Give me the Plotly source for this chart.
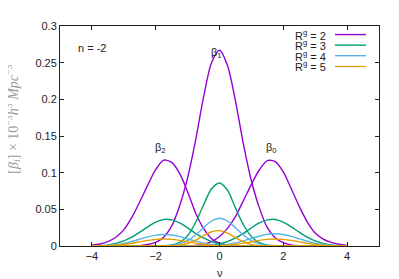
import plotly.graph_objects as go

# threshold grid (nu)
NU = [-4.0, -3.75, -3.5, -3.25, -3.0, -2.75, -2.5, -2.25, -2.0, -1.75, -1.5, -1.25,
      -1.0, -0.75, -0.5, -0.25, 0.0, 0.25, 0.5, 0.75, 1.0, 1.25, 1.5, 1.75,
      2.0, 2.25, 2.5, 2.75, 3.0, 3.25, 3.5, 3.75, 4.0]

# Rg = 2
B0_R2 = [0]*12 + [0.0002, 0.0008, 0.0025, 0.006, 0.013, 0.024, 0.040, 0.062, 0.084, 0.104,
                  0.1165, 0.115, 0.101, 0.078, 0.054, 0.033, 0.0176, 0.0094, 0.0049, 0.0023, 0.0008]
B1_R2 = [0]*6 + [0.0005, 0.002, 0.005, 0.012, 0.027, 0.055, 0.093, 0.144, 0.203, 0.250, 0.267,
                 0.246, 0.198, 0.139, 0.089, 0.052, 0.025, 0.011, 0.0045, 0.0015, 0.0004] + [0]*6
B2_R2 = [0.001, 0.0027, 0.006, 0.012, 0.022, 0.039, 0.060, 0.083, 0.104, 0.117, 0.114, 0.099,
         0.074, 0.045, 0.024, 0.010, 0.004, 0.0012, 0.0003] + [0]*14
# Rg = 3
B0_R3 = [0]*14 + [0.0005, 0.0013, 0.003, 0.006, 0.011, 0.0173, 0.0247, 0.0314, 0.0356, 0.0362,
                  0.0325, 0.026, 0.0188, 0.012, 0.0069, 0.0035, 0.0016, 0.0006, 0.0002]
B1_R3 = [0]*9 + [0.0003, 0.0014, 0.005, 0.014, 0.032, 0.056, 0.078, 0.086, 0.076, 0.052, 0.029,
                 0.013, 0.0045, 0.0012, 0.0003] + [0]*9
B2_R3 = [0.0002, 0.0006, 0.0016, 0.0035, 0.0069, 0.012, 0.0188, 0.026, 0.0325, 0.0362, 0.0356,
         0.0314, 0.0247, 0.0173, 0.011, 0.006, 0.003, 0.0013, 0.0005] + [0]*14
# Rg = 4
B0_R4 = [0]*15 + [0.0004, 0.001, 0.0022, 0.0042, 0.0070, 0.0103, 0.0136, 0.0160, 0.0167, 0.0157,
                  0.0132, 0.0098, 0.0065, 0.0038, 0.002, 0.0009, 0.0003] + [0]
B1_R4 = [0]*9 + [0.0002, 0.0009, 0.0029, 0.0072, 0.0149, 0.025, 0.0341, 0.0378, 0.0341, 0.025,
                 0.0149, 0.0072, 0.0029, 0.0009, 0.0002] + [0]*9
B2_R4 = [0] + [0.0003, 0.0009, 0.0019, 0.0036, 0.0062, 0.0093, 0.0125, 0.0149, 0.0157, 0.0150,
               0.0128, 0.0097, 0.0066, 0.0040, 0.0021, 0.001, 0.0004] + [0]*15
# Rg = 5
B0_R5 = [0]*15 + [0.0002, 0.0005, 0.0011, 0.0023, 0.0039, 0.0058, 0.0076, 0.0090, 0.0095, 0.0091,
                  0.0077, 0.0057, 0.0037, 0.0021, 0.0011, 0.0005, 0.0002] + [0]
B1_R5 = [0]*10 + [0.0003, 0.0012, 0.0034, 0.0079, 0.014, 0.0194, 0.0209, 0.0175, 0.0115, 0.0058,
                  0.0023, 0.0007, 0.0002] + [0]*10
B2_R5 = [0] + [0.0002, 0.0005, 0.0011, 0.0021, 0.0037, 0.0057, 0.0077, 0.0091, 0.0095, 0.0090,
               0.0076, 0.0058, 0.0039, 0.0023, 0.0011, 0.0005, 0.0002] + [0]*15

SERIES = [
    ("R<sup>g</sup> = 2", "#9400d3", [B0_R2, B1_R2, B2_R2]),
    ("R<sup>g</sup> = 3", "#009e73", [B0_R3, B1_R3, B2_R3]),
    ("R<sup>g</sup> = 4", "#56b4e9", [B0_R4, B1_R4, B2_R4]),
    ("R<sup>g</sup> = 5", "#e69f00", [B0_R5, B1_R5, B2_R5]),
]
for _, _, arrs in SERIES:
    for a in arrs:
        assert len(a) == len(NU), len(a)

X_TICKS = [-4, -2, 0, 2, 4]
Y_TICKS = [0, 0.05, 0.1, 0.15, 0.2, 0.25, 0.3]
Y_TICKTEXT = ["0", "0.05", "0.1", "0.15", "0.2", "0.25", "0.3"]

FONT = "Liberation Sans, Arial, sans-serif"
fig = go.Figure()
for name, color, arrs in SERIES:
    for a in arrs:
        fig.add_trace(go.Scatter(x=NU, y=a, mode="lines",
                                 line=dict(color=color, width=1.4, shape="spline", smoothing=0.8),
                                 showlegend=False, hoverinfo="skip"))

axis_common = dict(showgrid=False, zeroline=False, showline=True, linecolor="#222", linewidth=1,
                   mirror="ticks", ticks="inside", ticklen=4, tickcolor="#222",
                   tickfont=dict(family=FONT, size=11, color="#222"))
fig.update_xaxes(range=[-5, 5], tickvals=X_TICKS, **axis_common)
fig.update_yaxes(range=[0, 0.3], tickvals=Y_TICKS, ticktext=Y_TICKTEXT, **axis_common)

ann = []
# legend (text left of the line sample, gnuplot style)
leg_y = [0.961, 0.913, 0.865, 0.816]
for (name, color, _), yy in zip(SERIES, leg_y):
    ann.append(dict(x=0.840, y=yy, xref="paper", yref="paper", text=name, showarrow=False,
                    xanchor="right", yanchor="middle", font=dict(family=FONT, size=11, color="#222")))
    fig.add_shape(type="line", xref="paper", yref="paper", x0=0.862, x1=0.959, y0=yy, y1=yy,
                  line=dict(color=color, width=1.4))

ann += [
    dict(x=-4.5, y=0.27, text="n = -2", xanchor="left"),
    dict(x=-0.08, y=0.263, text="β<sub>1</sub>", xanchor="center"),
    dict(x=-1.84, y=0.134, text="β<sub>2</sub>", xanchor="center"),
    dict(x=1.64, y=0.134, text="β<sub>0</sub>", xanchor="center"),
]
for a in ann[4:]:
    a.update(xref="x", yref="y", showarrow=False, yanchor="middle", font=dict(family=FONT, size=11, color="#222"))

ann.append(dict(x=0, y=-0.122, xref="x", yref="paper", text="ν", showarrow=False,
                xanchor="center", yanchor="middle", font=dict(family=FONT, size=11, color="#222")))
ann.append(dict(x=-0.15, y=0.575, xref="paper", yref="paper",
                text="[<i>β<sub>i</sub></i>] × 10<sup>−3</sup><i>h</i><sup>3</sup> <i>Mpc</i><sup>−3</sup>",
                textangle=-90, showarrow=False, xanchor="center", yanchor="middle",
                font=dict(family="Liberation Serif, DejaVu Serif, serif", size=14, color="#999")))

# the page body adds an 8px offset, so the figure is sized to fit the window
fig.update_layout(width=391, height=271, margin=dict(l=52, r=20, t=14, b=33),
                  plot_bgcolor="white", paper_bgcolor="white", annotations=ann)
fig.write_html("out.html")
